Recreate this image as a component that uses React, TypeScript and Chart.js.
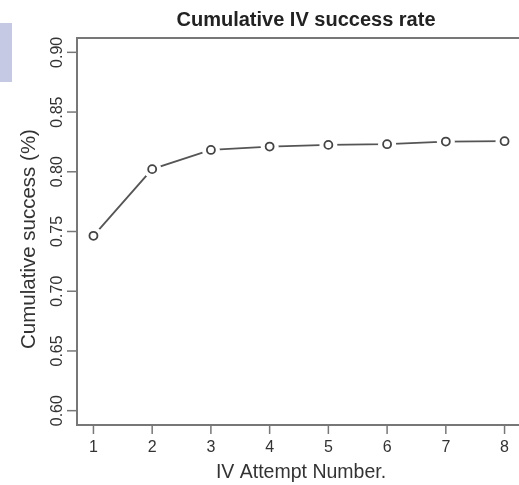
import React, { useEffect, useRef } from "react";
import { Chart, registerables } from "chart.js";

Chart.register(...registerables);

const attempts = [1, 2, 3, 4, 5, 6, 7, 8];
const successRate = [0.7464, 0.8022, 0.8183, 0.8211, 0.8225, 0.8231, 0.8253, 0.8256];
const xTickLabels = ["1", "2", "3", "4", "5", "6", "7", "8"];
const yTickValues = [0.6, 0.65, 0.7, 0.75, 0.8, 0.85, 0.9];
const yTickLabels = ["0.60", "0.65", "0.70", "0.75", "0.80", "0.85", "0.90"];
const chartTitle = "Cumulative IV success rate";
const xTitle = "IV Attempt Number.";
const yTitle = "Cumulative success (%)";

const FONT = "'Liberation Sans', Arial, Helvetica, sans-serif";

const rAxesPlugin = {
  id: "rAxes",
  afterDraw(chart: any) {
    const { ctx, chartArea, scales } = chart;
    const xs = scales.x;
    const ys = scales.y;
    ctx.save();
    // box
    ctx.strokeStyle = "#777";
    ctx.lineWidth = 2;
    ctx.strokeRect(chartArea.left, chartArea.top, chartArea.right - chartArea.left, chartArea.bottom - chartArea.top);

    // x ticks
    ctx.lineWidth = 1.5;
    ctx.strokeStyle = "#777";
    ctx.fillStyle = "#333";
    ctx.font = `16px ${FONT}`;
    ctx.textAlign = "center";
    ctx.textBaseline = "middle";
    attempts.forEach((v, i) => {
      const px = xs.getPixelForValue(v);
      ctx.beginPath();
      ctx.moveTo(px, chartArea.bottom);
      ctx.lineTo(px, chartArea.bottom + 9);
      ctx.stroke();
      ctx.fillText(xTickLabels[i], px, chartArea.bottom + 23);
    });

    // y ticks
    yTickValues.forEach((v, i) => {
      const py = ys.getPixelForValue(v);
      ctx.beginPath();
      ctx.moveTo(chartArea.left, py);
      ctx.lineTo(chartArea.left - 10, py);
      ctx.stroke();
      ctx.save();
      ctx.translate(chartArea.left - 19, py);
      ctx.rotate(-Math.PI / 2);
      ctx.fillText(yTickLabels[i], 0, 0);
      ctx.restore();
    });

    // axis titles
    ctx.font = `19.5px ${FONT}`;
    ctx.fillText(xTitle, xs.getPixelForValue(4.5) + 2, 473);
    ctx.save();
    ctx.translate(29, 239);
    ctx.rotate(-Math.PI / 2);
    ctx.font = `20.5px ${FONT}`;
    ctx.fillText(yTitle, 0, 0);
    ctx.restore();

    // main title
    ctx.font = `bold 20px ${FONT}`;
    ctx.fillStyle = "#222";
    ctx.fillText(chartTitle, 306, 20);
    ctx.restore();
  },
};

export default function App() {
  const canvasRef = useRef<HTMLCanvasElement | null>(null);

  useEffect(() => {
    const canvas = canvasRef.current;
    if (!canvas) return;
    const points = attempts.map((a, i) => ({ x: a, y: successRate[i] }));
    const chart = new Chart(canvas, {
      type: "line",
      data: {
        datasets: [
          {
            data: points,
            showLine: false,
            pointRadius: 4,
            pointBorderWidth: 1.8,
            pointBorderColor: "#444",
            pointBackgroundColor: "#fff",
            clip: false,
          } as any,
          {
            data: points,
            borderColor: "#555",
            borderWidth: 1.8,
            tension: 0,
            pointRadius: 9,
            pointBorderWidth: 0,
            pointBackgroundColor: "#fff",
            pointBorderColor: "#fff",
            clip: false,
          } as any,
        ],
      },
      options: {
        responsive: false,
        animation: false,
        devicePixelRatio: 1,
        layout: { padding: { left: 77, top: 38, right: 5, bottom: 60 } },
        plugins: { legend: { display: false }, tooltip: { enabled: false }, title: { display: false } },
        scales: {
          x: { type: "linear", min: 0.72, max: 8.28, display: false },
          y: { type: "linear", min: 0.588, max: 0.912, display: false },
        },
      },
      plugins: [rAxesPlugin],
    });
    return () => chart.destroy();
  }, []);

  return (
    <div
      style={{
        position: "fixed",
        left: 0,
        top: 0,
        width: 519,
        height: 485,
        overflow: "hidden",
        background: "#fff",
      }}
    >
      <canvas
        ref={canvasRef}
        width={530}
        height={485}
        style={{ width: 530, height: 485, display: "block", filter: "blur(0.4px)" }}
      />
      <div
        style={{
          position: "absolute",
          left: 0,
          top: 23,
          width: 12,
          height: 59,
          background: "#c6c9e3",
        }}
      />
    </div>
  );
}
